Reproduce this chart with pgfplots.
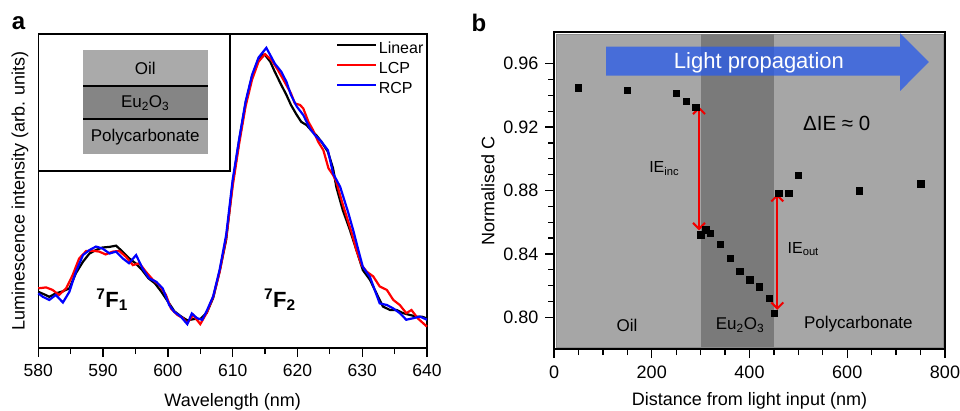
\documentclass[border=0pt]{standalone}
\usepackage{fontspec}
\setmainfont{Liberation Sans}
\usepackage{pgfplots}
\pgfplotsset{compat=1.18}
\usetikzlibrary{arrows.meta}
\definecolor{arrowblue}{RGB}{40,90,235}
\definecolor{lightg}{RGB}{166,166,166}
\definecolor{darkg}{RGB}{122,122,122}
\definecolor{oilg}{RGB}{170,170,170}
\definecolor{eug}{RGB}{133,133,133}
\definecolor{pcg}{RGB}{163,163,163}
\definecolor{arrred}{RGB}{240,0,0}
\begin{document}
\begin{tikzpicture}
\useasboundingbox (0pt,0pt) rectangle (960pt,410pt);
% ---------------- panel a ----------------
\begin{axis}[
  at={(38.3pt,62pt)}, anchor=south west,
  width=388.7pt, height=314pt, scale only axis,
  xmin=580, xmax=640, ymin=0, ymax=1,
  xtick={580,590,...,640}, minor x tick num=1, ytick=\empty,
  tick align=outside, xtick pos=bottom,
  major tick length=9pt, minor tick length=6pt,
  every tick/.style={black, line width=1.3pt},
  axis line style={line width=1.6pt},
  /pgf/number format/assume math mode=true,
  ticklabel style={font=\fontsize{17.5}{20}\selectfont},
  xticklabel style={yshift=-4pt},
  label style={font=\fontsize{18}{21}\selectfont},
  xlabel={Wavelength (nm)},
  ylabel={Luminescence intensity (arb. units)},
  xlabel style={at={(axis description cs:0.5,-0.170)}, anchor=center},
  ylabel style={at={(axis description cs:-0.047,0.5)}, anchor=center},
  legend style={at={(axis description cs:0.995,0.985)}, anchor=north east, draw=none, fill=none,
    font=\fontsize{16}{19}\selectfont, row sep=0pt, inner sep=0pt,
    nodes={inner sep=1.5pt, text height=13pt, text depth=4pt}},
  legend cell align=left,
  legend image code/.code={\draw[#1, line width=2.5pt] (0pt,4pt) -- (39pt,4pt);},
  clip=false,
]
\draw[line width=1.5pt, fill=white] (axis cs:580,0.564) rectangle (axis cs:609.6,1);
\fill[oilg] (axis cs:586.9,0.834) rectangle (axis cs:606.2,0.949);
\fill[eug] (axis cs:586.9,0.729) rectangle (axis cs:606.2,0.834);
\fill[pcg] (axis cs:586.9,0.618) rectangle (axis cs:606.2,0.729);
\draw[line width=2.6pt] (axis cs:586.9,0.834) -- (axis cs:606.2,0.834);
\draw[line width=2.6pt] (axis cs:586.9,0.729) -- (axis cs:606.2,0.729);
\node[font=\fontsize{17}{20}\selectfont] at (axis cs:596.5,0.889) {Oil};
\node[font=\fontsize{17}{20}\selectfont] at (axis cs:596.5,0.780) {Eu\textsubscript{2}O\textsubscript{3}};
\node[font=\fontsize{17}{20}\selectfont] at (axis cs:596.5,0.672) {Polycarbonate};
\addplot[black, line width=2.2pt] coordinates {
(580,0.179)(581,0.170)(581.7,0.163)(582.7,0.174)(583.7,0.180)(584.8,0.190)(585.8,0.238)
(586.9,0.275)(587.9,0.301)(588.9,0.312)(589.9,0.320)(591,0.322)(592,0.326)(593,0.307)
(594,0.286)(595,0.270)(596,0.249)(597,0.222)(598,0.206)(599,0.179)(600.2,0.142)(601,0.117)
(602,0.101)(603,0.088)(604,0.092)(605,0.092)(606,0.112)(607,0.160)(608,0.245)(609,0.345)
(610,0.525)(611,0.660)(612,0.780)(613,0.865)(614,0.922)(614.6,0.935)(615,0.933)(615.8,0.912)
(616.5,0.880)(617.5,0.838)(618.3,0.806)(619,0.774)(619.9,0.742)(620.6,0.720)(621.4,0.710)
(622.1,0.694)(622.9,0.678)(623.7,0.657)(624.7,0.625)(625.5,0.572)(626,0.513)(627,0.439)
(628.1,0.376)(629.1,0.312)(630.1,0.248)(631.2,0.217)(632.2,0.174)(633.2,0.132)(634.3,0.121)
(635.3,0.121)(636.3,0.111)(637.4,0.105)(638.4,0.100)(639.2,0.100)(640,0.094)};
\addlegendentry{Linear}
\addplot[red, line width=2.2pt] coordinates {
(580,0.190)(581.2,0.193)(582.2,0.185)(583.2,0.169)(584.3,0.190)(585.3,0.232)(586.3,0.285)
(587.4,0.309)(588.4,0.310)(589.4,0.307)(590.4,0.298)(591.5,0.307)(592.5,0.309)(593.5,0.291)
(594.6,0.264)(595.6,0.270)(596.6,0.243)(597.7,0.217)(598.7,0.200)(599.7,0.169)(600.5,0.125)
(601.5,0.105)(602.3,0.095)(603,0.079)(603.9,0.105)(605,0.076)(606,0.112)(607,0.163)
(608,0.243)(609,0.350)(610,0.515)(611,0.650)(612,0.770)(613,0.855)(614,0.912)(615,0.936)
(616,0.917)(617,0.885)(618,0.848)(619,0.811)(619.6,0.779)(620.4,0.774)(620.9,0.763)
(621.7,0.720)(622.4,0.694)(623.2,0.657)(624,0.630)(624.8,0.572)(625.5,0.551)(626,0.530)
(626.8,0.471)(627.6,0.418)(628.4,0.365)(629.1,0.312)(629.9,0.264)(630.7,0.243)(631.7,0.228)
(632.7,0.196)(633.8,0.185)(634.8,0.153)(635.8,0.137)(636.8,0.111)(637.6,0.121)(638.6,0.094)
(640,0.068)};
\addlegendentry{LCP}
\addplot[blue, line width=2.2pt] coordinates {
(580,0.174)(580.7,0.163)(581.7,0.153)(582.7,0.169)(583.8,0.145)(584.8,0.179)(585.8,0.243)
(586.9,0.296)(587.9,0.312)(588.9,0.323)(589.9,0.317)(591,0.301)(592,0.307)(593,0.286)
(594,0.270)(595.1,0.296)(596.1,0.253)(597.1,0.222)(598.2,0.211)(599.2,0.190)(600.2,0.137)
(601,0.115)(602,0.100)(603,0.076)(603.7,0.110)(604.5,0.095)(605.3,0.090)(606,0.118)
(607,0.165)(608,0.250)(609,0.360)(610,0.535)(611,0.665)(612,0.785)(613,0.870)(614,0.925)
(615.2,0.956)(615.8,0.933)(616.5,0.906)(617.5,0.880)(618.3,0.848)(619,0.806)(619.9,0.769)
(620.9,0.742)(621.9,0.700)(622.7,0.678)(623.7,0.657)(624.7,0.630)(625.5,0.556)(626.6,0.513)
(627.8,0.434)(628.6,0.376)(629.4,0.312)(630.1,0.258)(631.2,0.226)(632.7,0.142)(633.8,0.137)
(634.8,0.126)(635.8,0.111)(636.8,0.090)(637.9,0.095)(638.9,0.100)(640,0.090)};
\addlegendentry{RCP}
\node[font=\bfseries\fontsize{22}{26}\selectfont] at (axis cs:591.4,0.153) {\textsuperscript{7}F\textsubscript{1}};
\node[font=\bfseries\fontsize{22}{26}\selectfont] at (axis cs:617.3,0.153) {\textsuperscript{7}F\textsubscript{2}};
\end{axis}
\node[font=\bfseries\fontsize{24}{28}\selectfont] at (18.5pt,387pt) {a};
\node[font=\bfseries\fontsize{24}{28}\selectfont] at (479pt,387pt) {b};
% ---------------- panel b ----------------
\begin{axis}[
  at={(554pt,61pt)}, anchor=south west,
  width=391pt, height=317pt, scale only axis,
  xmin=0, xmax=800, ymin=0.78, ymax=0.98,
  xtick={0,200,...,800}, minor x tick num=3,
  ytick={0.80,0.84,0.88,0.92,0.96}, minor y tick num=3,
  yticklabel style={xshift=-3pt, /pgf/number format/.cd, fixed, fixed zerofill, precision=2},
  tick align=outside, xtick pos=bottom, ytick pos=left,
  major tick length=9pt, minor tick length=6pt,
  every tick/.style={black, line width=1.3pt},
  axis line style={line width=1.6pt},
  /pgf/number format/assume math mode=true,
  ticklabel style={font=\fontsize{18}{21}\selectfont},
  xticklabel style={yshift=-4pt},
  label style={font=\fontsize{18}{21}\selectfont},
  xlabel={Distance from light input (nm)},
  ylabel={Normalised C},
  xlabel style={at={(axis description cs:0.5,-0.164)}, anchor=center},
  ylabel style={at={(axis description cs:-0.169,0.5)}, anchor=center},
  clip=false,
]
\fill[lightg, draw=black!45, line width=0.6pt] (axis cs:4,0.7812) rectangle (axis cs:796,0.9788);
\fill[darkg] (axis cs:300,0.7815) rectangle (axis cs:450,0.9785);
\fill[arrowblue, opacity=0.75] (axis cs:106.4,0.9524) -- (axis cs:708,0.9524) -- (axis cs:708,0.9428)
  -- (axis cs:767,0.961) -- (axis cs:708,0.9792) -- (axis cs:708,0.9707) -- (axis cs:106.4,0.9707) -- cycle;
\node[white, font=\fontsize{22}{26}\selectfont] at (axis cs:419.4,0.9606) {Light propagation};
\addplot[only marks, mark=square*, mark size=3.2pt, black] coordinates {
(50,0.9448)(150,0.9434)(250,0.9415)(270,0.9364)(290,0.9326)(300,0.8522)(310,0.8552)(320,0.8531)
(340,0.8461)(360,0.8371)(380,0.8291)(400,0.8238)(420,0.8194)(440,0.8120)(450,0.8025)
(460,0.8783)(480,0.8783)(500,0.8897)(625,0.8800)(750,0.8842)};
\draw[arrred, line width=2pt, {Straight Barb[length=6pt,width=12pt]}-{Straight Barb[length=6pt,width=12pt]}]
  (axis cs:296.7,0.9329) -- (axis cs:296.7,0.8549);
\draw[arrred, line width=2pt, {Straight Barb[length=6pt,width=12pt]}-{Straight Barb[length=6pt,width=12pt]}]
  (axis cs:456.9,0.8778) -- (axis cs:456.9,0.8047);
\node[font=\fontsize{16}{19}\selectfont] at (axis cs:225.5,0.894) {IE\textsubscript{inc}};
\node[font=\fontsize{16}{19}\selectfont] at (axis cs:510,0.843) {IE\textsubscript{out}};
\node[font=\fontsize{20.5}{24}\selectfont] at (axis cs:578.4,0.922) {ΔIE ≈ 0};
\node[font=\fontsize{17}{20}\selectfont] at (axis cs:149.4,0.7951) {Oil};
\node[font=\fontsize{17}{20}\selectfont] at (axis cs:380.6,0.7951) {Eu\textsubscript{2}O\textsubscript{3}};
\node[font=\fontsize{17}{20}\selectfont] at (axis cs:622.7,0.7960) {Polycarbonate};
\end{axis}
\end{tikzpicture}
\end{document}
